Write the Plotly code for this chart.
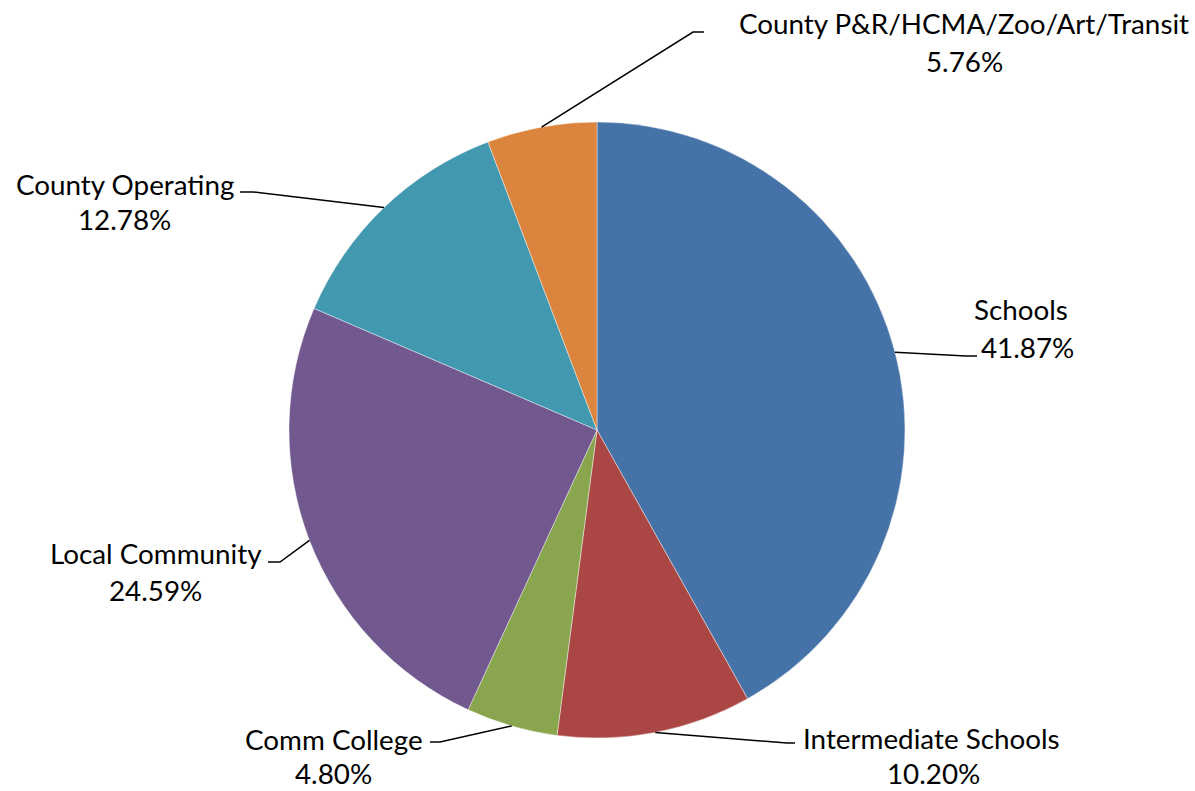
import math
import plotly.graph_objects as go

W, H = 1195, 791

categories = ["Schools", "Intermediate Schools", "Comm College", "Local Community",
              "County Operating", "County P&R/HCMA/Zoo/Art/Transit"]
values = [41.87, 10.20, 4.80, 24.59, 12.78, 5.76]
pct_labels = ["41.87%", "10.20%", "4.80%", "24.59%", "12.78%", "5.76%"]
colors = ["#4673A7", "#AA4643", "#89A54E", "#71588F", "#4198AF", "#DB843D"]

# layout (pixels): pie centre / radius, leader elbows, label centres
CX, CY, R = 597, 430, 308
elbows = [(966, 356), (787, 743), (440, 742), (280, 562), (253, 192), (693, 32)]
ends = [(977, 356), (795, 743), (430, 742), (268, 562), (240, 192), (704, 32)]
name_pos = [(1021, 309), (932, 738), (334, 739), (156, 553), (125, 184), (964, 24)]
pct_pos = [(1027, 348), (933, 773), (333, 773), (155, 590), (124, 219), (964, 61)]

FONT = "Lato"
FS = 27.8


def px(x, y):
    return x / W, 1 - y / H


fig = go.Figure(go.Pie(
    labels=categories, values=values, sort=False, direction="clockwise",
    rotation=0, textinfo="none", hoverinfo="label+percent",
    marker=dict(colors=colors, line=dict(color="rgba(255,255,255,0.6)", width=0.7)),
    domain=dict(x=[(CX - R) / W, (CX + R) / W], y=[1 - (CY + R) / H, 1 - (CY - R) / H]),
))

shapes = []
annotations = []
total = sum(values)
cum = 0.0
for i, v in enumerate(values):
    mid = (cum + v / 2) / total
    cum += v
    ang = math.radians(90 - mid * 360)
    sx, sy = CX + R * math.cos(ang), CY - R * math.sin(ang)
    p0 = px(sx, sy)
    p1 = px(*elbows[i])
    p2 = px(*ends[i])
    shapes.append(dict(type="path", xref="paper", yref="paper",
                       path=f"M {p0[0]},{p0[1]} L {p1[0]},{p1[1]} L {p2[0]},{p2[1]}",
                       line=dict(color="black", width=1.5)))
    for text, pos in ((categories[i], name_pos[i]), (pct_labels[i], pct_pos[i])):
        x, y = px(*pos)
        annotations.append(dict(text=text, x=x, y=y, xref="paper", yref="paper",
                                xanchor="center", yanchor="middle", showarrow=False,
                                borderpad=0,
                                font=dict(family=FONT, size=FS, color="black")))

fig.update_layout(width=W, height=H, margin=dict(l=0, r=0, t=0, b=0),
                  paper_bgcolor="white", plot_bgcolor="white", showlegend=False,
                  shapes=shapes, annotations=annotations)

fig.write_html("out.html", config={"displayModeBar": False},
               post_script="document.body.style.margin='0';")
